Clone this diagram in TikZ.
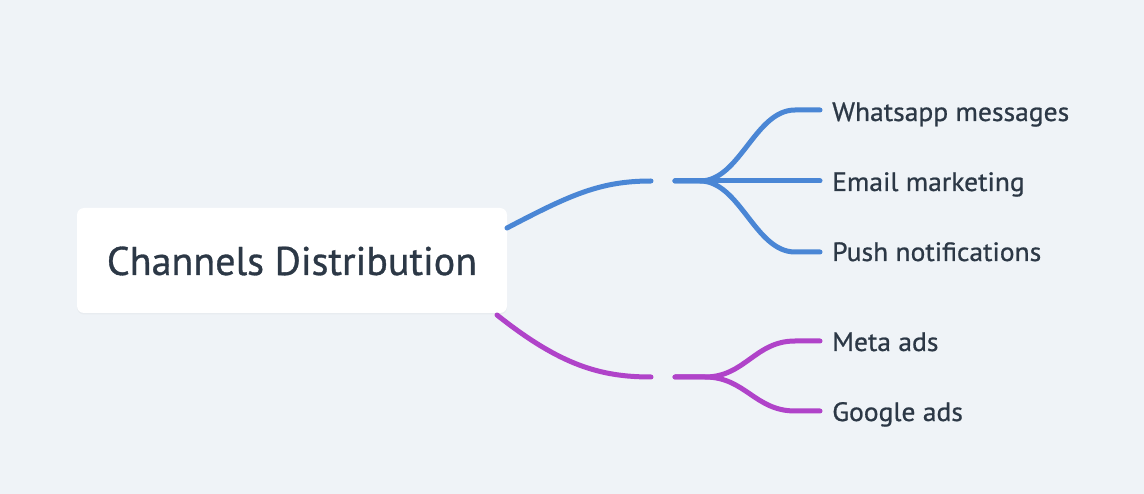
\documentclass[tikz,border=0pt]{standalone}
\usepackage{fontspec}
\setmainfont{PT Sans}
\newfontfamily\rootfont[FakeBold=0.8]{PT Sans}
\newfontfamily\leaffont[FakeBold=0.8,FakeStretch=1.04]{PT Sans}
\usetikzlibrary{shadows}
\definecolor{bgc}{HTML}{EFF3F7}
\definecolor{bluec}{HTML}{4A86D5}
\definecolor{purpc}{HTML}{B043C9}
\definecolor{txtc}{HTML}{2C3846}
\tikzset{
  x=1pt, y=-1pt,
  rootbox/.style={fill=white, rounded corners=7pt, minimum width=430pt, minimum height=105pt,
    inner sep=0pt, text=txtc, font=\rootfont\fontsize{40}{40}\selectfont, text height=29pt, text depth=0pt,
    drop shadow={opacity=0.06, shadow xshift=0pt, shadow yshift=-1.5pt}},
  leaf/.style={anchor=base west, inner sep=0pt, text=txtc, font=\leaffont\fontsize{26.5}{26.5}\selectfont},
  conn/.style={line width=5pt, line cap=round},
}
\begin{document}
\begin{tikzpicture}
\fill[bgc] (0,0) rectangle (1144,494);
\useasboundingbox (0,0) rectangle (1144,494);
\node[rootbox] (root) at (292,260.5) {Channels Distribution};
% anchor coordinates
\coordinate (rb) at (507,228);
\coordinate (rp) at (497,315);
\coordinate (j1) at (651,181);
\coordinate (k1) at (675,181);
\coordinate (j2) at (651,377);
\coordinate (k2) at (675,377);
\coordinate (e1) at (820,110);
\coordinate (e2) at (820,181);
\coordinate (e3) at (820,252);
\coordinate (e4) at (820,341);
\coordinate (e5) at (820,411);
% leaves
\node[leaf] (l1) at (832,121) {Whatsapp messages};
\node[leaf] (l2) at (832,191) {Email marketing};
\node[leaf] (l3) at (832,261) {Push notifications};
\node[leaf] (l4) at (832,351) {Meta ads};
\node[leaf] (l5) at (832,421) {Google ads};
% blue
\draw[conn, bluec] (rb) .. controls (570,195) and (600,181) .. (j1);
\draw[conn, bluec] (k1) -- (700,181) .. controls (740,181) and (755,110) .. (795,110) -- (e1);
\draw[conn, bluec] (k1) -- (e2);
\draw[conn, bluec] (k1) -- (700,181) .. controls (740,181) and (755,252) .. (795,252) -- (e3);
% purple
\draw[conn, purpc] (rp) .. controls (560,365) and (600,377) .. (j2);
\draw[conn, purpc] (k2) -- (705,377) .. controls (745,377) and (755,341) .. (795,341) -- (e4);
\draw[conn, purpc] (k2) -- (705,377) .. controls (745,377) and (755,411) .. (795,411) -- (e5);
\end{tikzpicture}
\end{document}
